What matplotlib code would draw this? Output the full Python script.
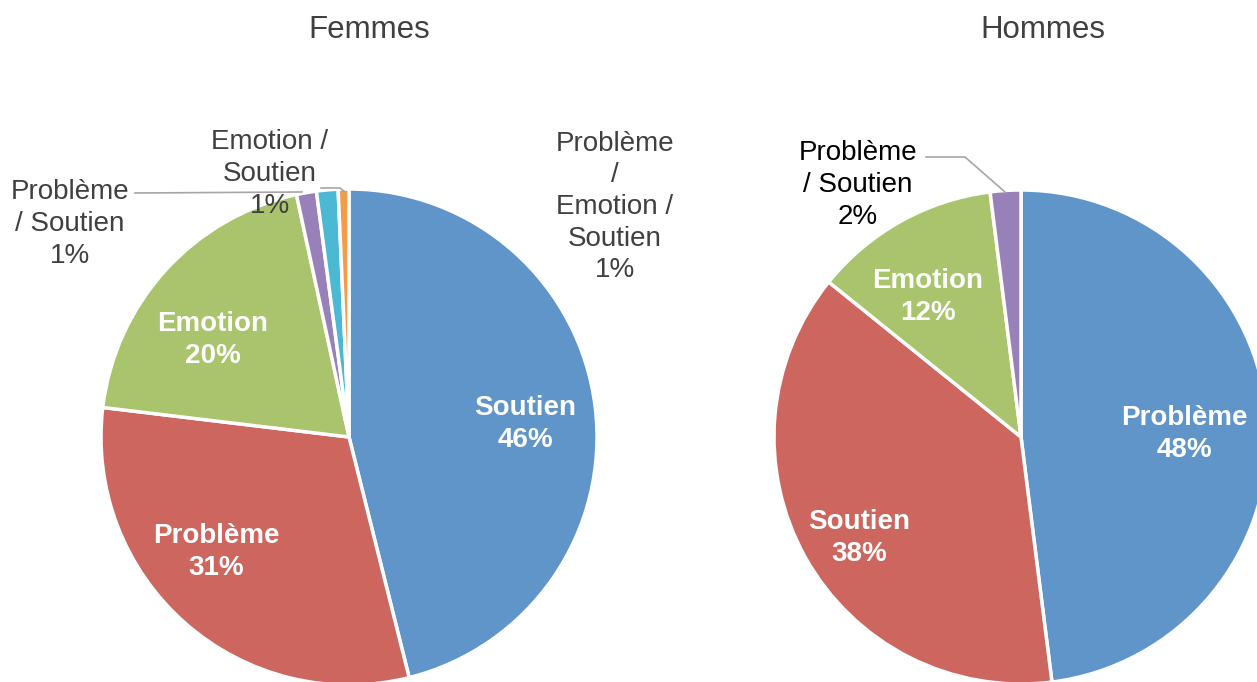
import matplotlib
matplotlib.use("Agg")
import matplotlib.pyplot as plt

plt.rcParams['font.family'] = ['Liberation Sans', 'DejaVu Sans']

# Data
femmes_labels = ["Soutien", "Problème", "Emotion", "Problème / Soutien", "Emotion / Soutien", "Problème / Emotion / Soutien"]
femmes_values = [46.1, 30.8, 19.7, 1.3, 1.4, 0.7]
femmes_pct = ["46%", "31%", "20%", "1%", "1%", "1%"]
hommes_labels = ["Problème", "Soutien", "Emotion", "Problème / Soutien"]
hommes_values = [48.0, 37.8, 12.2, 2.0]
hommes_pct = ["48%", "38%", "12%", "2%"]

BLUE = "#5F95C8"
RED = "#CD665F"
GREEN = "#A9C46C"
PURPLE = "#9880B8"
CYAN = "#4BB8D4"
ORANGE = "#F79B47"
TXT = "#404040"

W, H = 1257, 682
fig = plt.figure(figsize=(W / 100, H / 100), dpi=100)
ax = fig.add_axes([0, 0, 1, 1])

def Y(py):
    return H - py - 3

def YL(py):
    return H - py

ax.pie(femmes_values, colors=[BLUE, RED, GREEN, PURPLE, CYAN, ORANGE],
       startangle=90, counterclock=False, center=(349, YL(437)), radius=248,
       wedgeprops=dict(edgecolor="white", linewidth=2.5))
ax.pie(hommes_values, colors=[BLUE, RED, GREEN, PURPLE],
       startangle=90, counterclock=False, center=(1021, YL(437)), radius=247,
       wedgeprops=dict(edgecolor="white", linewidth=2.5))

ax.set_xlim(0, W)
ax.set_ylim(0, H)
ax.set_aspect('equal')
ax.axis('off')

# Titles
ax.text(369, Y(27), "Femmes", ha='center', va='center', fontsize=22.5, color=TXT)
ax.text(1043, Y(27), "Hommes", ha='center', va='center', fontsize=22.5, color=TXT)

fs = 20
ls = 1.28
# Inside labels
inner = [
    (525, 421, femmes_labels[0], femmes_pct[0]),
    (216, 549, femmes_labels[1], femmes_pct[1]),
    (213, 337, femmes_labels[2], femmes_pct[2]),
    (1184, 431, hommes_labels[0], hommes_pct[0]),
    (859, 535, hommes_labels[1], hommes_pct[1]),
    (928, 294, hommes_labels[2], hommes_pct[2]),
]
for x, y, lab, p in inner:
    ax.text(x, Y(y), f"{lab}\n{p}", ha='center', va='center', fontsize=fs,
            fontweight='bold', color='white', linespacing=ls)

# Outside labels
ax.text(70, Y(221), "Problème\n/ Soutien\n" + femmes_pct[3], ha='center', va='center',
        fontsize=fs, color=TXT, linespacing=ls)
ax.text(270, Y(171), "Emotion /\nSoutien\n" + femmes_pct[4], ha='center', va='center',
        fontsize=fs, color=TXT, linespacing=ls)
ax.text(615, Y(204), "Problème\n/\nEmotion /\nSoutien\n" + femmes_pct[5], ha='center', va='center',
        fontsize=fs, color=TXT, linespacing=ls)
ax.text(858, Y(182), "Problème\n/ Soutien\n" + hommes_pct[3], ha='center', va='center',
        fontsize=fs, color='black', linespacing=ls)

# Leader lines
lc = "#A6A6A6"
ax.plot([135, 302], [YL(193), YL(192)], color=lc, lw=1.2)
ax.plot([321, 340, 345], [YL(188), YL(188), YL(192)], color=lc, lw=1.2)
ax.plot([926, 965, 1005], [YL(157), YL(157), YL(192)], color=lc, lw=1.2)

fig.savefig("out.png", dpi=100)
